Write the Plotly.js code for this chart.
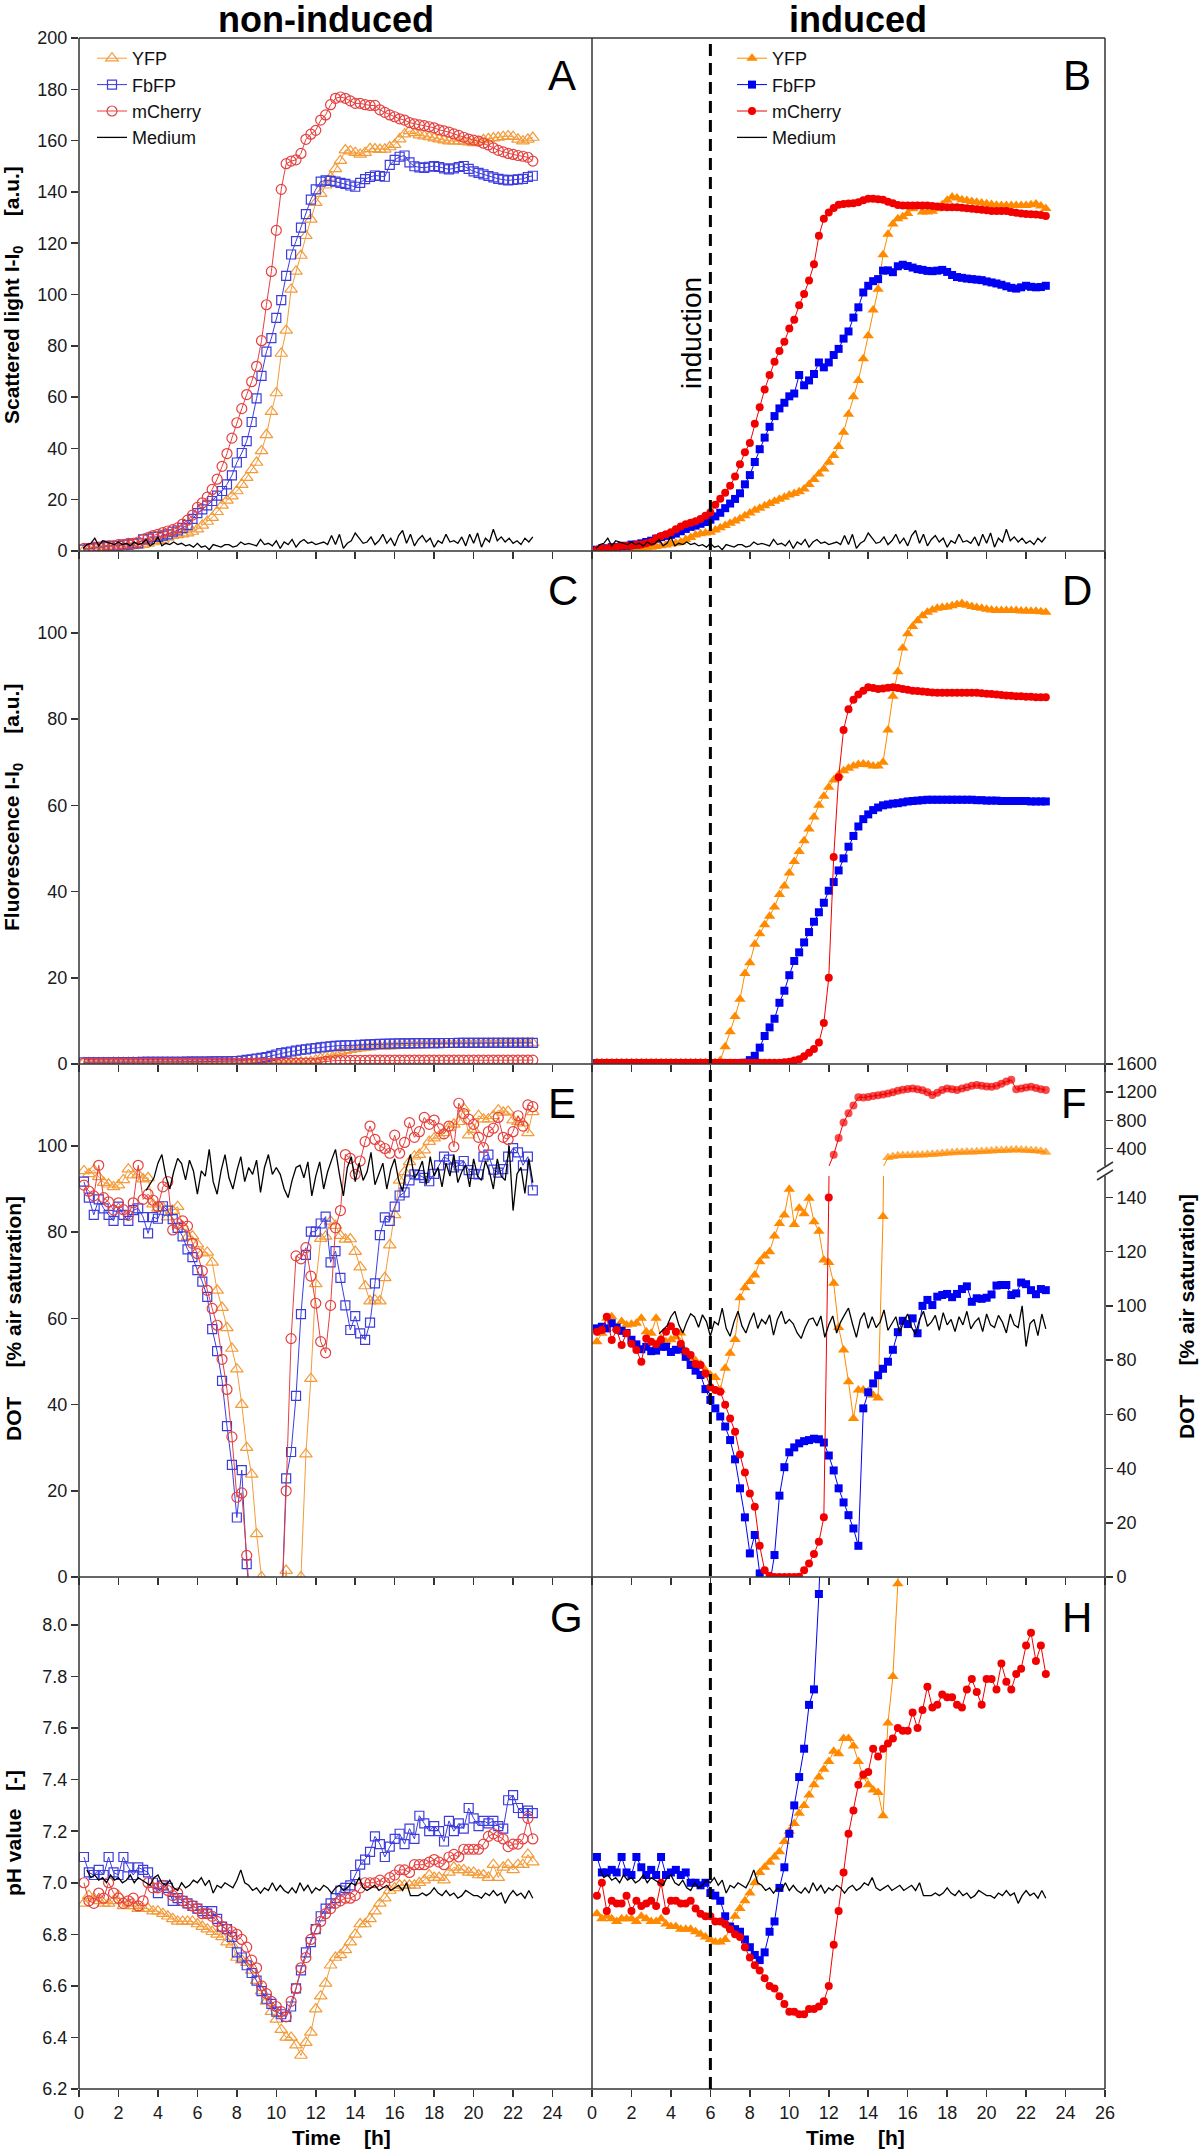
<!DOCTYPE html>
<html>
<head>
<meta charset="utf-8">
<script src="https://cdn.plot.ly/plotly-3.0.1.min.js"></script>
<style>
html,body{margin:0;padding:0;background:#fff;}
#chart{width:1200px;height:2152px;}
</style>
</head>
<body>
<div id="chart"></div>
<script>
// ---------- time grids [h] ----------
const T = [0.25,0.5,0.75,1,1.25,1.5,1.75,2,2.25,2.5,2.75,3,3.25,3.5,3.75,4,4.25,4.5,4.75,5,5.25,5.5,5.75,6,
6.25,6.5,6.75,7,7.25,7.5,7.75,8,8.25,8.5,8.75,9,9.25,9.5,9.75,10,10.25,10.5,10.75,11,11.25,11.5,11.75,12,
12.25,12.5,12.75,13,13.25,13.5,13.75,14,14.25,14.5,14.75,15,15.25,15.5,15.75,16,16.25,16.5,16.75,17,
17.25,17.5,17.75,18,18.25,18.5,18.75,19,19.25,19.5,19.75,20,20.25,20.5,20.75,21,21.25,21.5,21.75,22,22.25,22.5,22.75,23];
const TM = [0.2,0.4,0.6,0.8,1,1.2,1.4,1.6,1.8,2,2.2,2.4,2.6,2.8,3,3.2,3.4,3.6,3.8,4,4.2,4.4,4.6,4.8,5,5.2,5.4,5.6,5.8,6,
6.2,6.4,6.6,6.8,7,7.2,7.4,7.6,7.8,8,8.2,8.4,8.6,8.8,9,9.2,9.4,9.6,9.8,10,10.2,10.4,10.6,10.8,11,11.2,11.4,11.6,11.8,12,
12.2,12.4,12.6,12.8,13,13.2,13.4,13.6,13.8,14,14.2,14.4,14.6,14.8,15,15.2,15.4,15.6,15.8,16,16.2,16.4,16.6,16.8,17,
17.2,17.4,17.6,17.8,18,18.2,18.4,18.6,18.8,19,19.2,19.4,19.6,19.8,20,20.2,20.4,20.6,20.8,21,21.2,21.4,21.6,21.8,22,22.2,22.4,22.6,22.8,23];

// ---------- A: scattered light, non-induced ----------
const A_YFP = [
0.3,0.5,0.5,0.8, 1,1,1.2,1.5, 1.5,1.8,2,2.2, 2.5,3,3.5,4, 4.5,5.3,6,6.3, 6.6,7,7.6,8.5,
10,11.5,13,15.3, 17.8,19.7,21.4,23.4, 25.9,28.6,31.6,34.5, 39,45.3,54.3,61.6, 77,86,102,109,
115.2,122.9,129.3,135.8, 139.3,142.6,145.7,149, 152.2,156.3,155.9,155.3, 154.6,155.3,156.8,156.7,
156.5,156.6,157.5,158.4, 160.6,162.5,163.8,163, 162.1,161.7,161.4,161, 160.6,160.2,159.8,159.8,
159.8,159.6,159.4,159.1, 159.6,160.3,160.7,161, 161.2,161.5,161.8,161.5, 160.5,159.8,160.5,161.2];
const A_FbFP = [
0.5,1,1,1.5, 1.5,2,2,2, 2.5,2.5,3,3, 4.5,4.8,5.5,5.5, 6,6.5,7.5,8, 9,10.1,12.5,14.8,
16.2,17.8,19.5,21.6, 23.4,26,29.5,34.5, 38.2,42.8,50.3,59.5, 68.3,77.7,83,90.9, 97.8,107.3,115.6,120.8,
126.1,131.3,137,141, 144,144.5,144.3,144, 143.5,143.1,142.5,142, 143.5,145,145.8,146.4,
146.2,145.9,150.5,152.5, 153.7,154.2,151.5,150, 149.6,149.4,149.8,150.1, 149.7,149.2,148.8,149.2,
149.7,150.1,149,148, 147.4,146.8,146.2,145.7, 145.1,144.8,144.5,144.7, 144.9,145.1,145.8,146.3];
const A_mCherry = [
1,1,1.5,1.5, 2,2,2,2.5, 2.5,3,3,3.5, 4.5,5.2,6,6.5, 7.2,7.8,8.3,9, 10.5,12,14,17,
18.8,21,24,28, 33,38,44,50, 55.5,61,66,72, 82,96,109,125, 141,151,152,152.5,
155,160.5,162.5,164, 168,170,174,176.5, 177,176.5,175.5,174.5, 174.5,174,173.7,173.7,
172,171,170,169.3, 168.5,168,167,166.5, 166.1,165.8,165.4,165, 164.2,163.8,163.3,162.6,
162,161.3,160.6,160.2, 159.8,159,158.3,157.2, 156.2,155.6,155,154.6, 154.2,153.9,153.5,152];
const MED_SCATTER = [1,2.5,3,5,2,4,3.5,3,2.5,3.5,2.5,3,2,3.5,2.5, 3,4.5,2,3,5.5,2,3,2.5,3.5,2.5,3,2,2.5,1.5,3,
1.5,2,0.5,2.5,2,1.5,2.5,2.5,1.5,2,3.5,2.5,3,2.5,2, 4.5,2.5,3,2,4,1,3.5,2.5,4.5,1.5,3.5,4.5,3,3.5,2.5,
3,3.5,2.5,6,2.5,6.5,1,3,4,7,5,3,3.5,5.5,2.5, 4,6.5,3,5,2,6,8,3,6.5,2,4.5,6,3.5,5,1.5,
4,3,6.5,3.5,4,3,5.5,2,6.5,3,7,1.5,5,3.5,8.5, 4,5.5,3.5,5,3,4,2.5,5,3.5,5.5];

// ---------- B: scattered light, induced ----------
const B_YFP = [
0.3,0.5,0.5,0.5, 0.8,0.8,1,1, 1,1.2,1.2,1.5, 1.8,2,2.3,2.7, 3,3.5,4.5,5.3, 6.2,6.7,7,7.3,
8.2,9.1,9.9,10.8, 11.7,12.6,13.7,14.8, 15.9,16.7,17.6,18.5, 19.4,20.2,21,21.8, 22.4,23.1,24.2,25.9,
27.9,30,32,34.6, 37.2,40.7,46.3,53.3, 60.1,66.5,75,83.9, 94,102,115.5,123.5,
127.5,129.5,130.3,131.6, 133.4,134.5,132.2,132.2, 132.5,133.4,135,136.7, 138,137.6,136.9,136.6,
136.3,136,135.7,135.4, 135.1,134.8,134.7,134.7, 134.7,134.7,134.7,134.7, 135,135.3,134.5,133.5];
const B_FbFP = [
0.5,1,1,1.5, 1.5,2,2,2.5, 2.5,3,3.5,4, 4.8,5.4,5.9,6.3, 6.8,7.7,8.6,9.4, 9.9,10.6,11.3,12.2,
13.5,14.9,16.7,18.5, 20.3,22.5,26,29.6, 34.7,39.7,44.2,48.4, 52.6,55.6,57.8,60.3, 61.4,68.6,64.6,66.5,
69,73.5,71.6,73.5, 76.4,78.8,82.8,85.6, 91,95,100.8,103.4, 105.2,106,109.3,109.4,
108.7,111,111.6,111.1, 110.5,109.9,109.6,109.2, 109.1,109.3,109.6,108.8, 107.6,106.8,106.5,106.2,
106,105.8,105.6,105.1, 104.7,104.3,103.8,103.2, 102.6,102.3,102.8,103.4, 103,102.8,102.9,103.4];
const B_mCherry = [
0.5,1,1,1.5, 1.5,2,2,2, 2.5,2.5,3,3.5, 5,5.8,6.5,7.3, 8.5,9.6,10.4,11, 11.6,12.5,13.7,15,
18,20.4,22.7,25.4, 29,33.8,38.5,42.1, 49.6,56,63,68.6, 73.8,78,81.6,86.7, 90.2,95.8,100.2,105.5,
111.8,122.9,129.5,132, 133.7,135,135.3,135.5, 135.6,136,136.7,137.3, 137.3,137.1,136.9,136.2,
135.6,134.9,134.7,134.7, 134.7,134.7,134.7,134.7, 134.5,134.3,134.1,134, 134,134,133.8,133.6,
133.4,133.2,133,132.8, 132.6,132.6,132.6,132.6, 132.2,131.9,131.6,131.4, 131.3,131.2,131,130.6];

// ---------- C: fluorescence, non-induced ----------
const C_YFP = [
0.3,0.3,0.3,0.3, 0.3,0.3,0.35,0.35, 0.35,0.35,0.4,0.4, 0.4,0.4,0.4,0.4, 0.4,0.4,0.4,0.4, 0.4,0.4,0.4,0.4,
0.4,0.4,0.4,0.4, 0.4,0.4,0.4,0.4, 0.4,0.4,0.4,0.4, 0.4,0.4,0.4,0.4, 0.4,0.4,0.4,0.4,
0.4,0.4,0.6,0.9, 1.3,1.7,2.1,2.5, 2.8,3.1,3.3,3.5, 3.65,3.8,3.9,4,
4.05,4.1,4.15,4.2, 4.25,4.3,4.35,4.4, 4.4,4.45,4.5,4.5, 4.55,4.55,4.6,4.6,
4.6,4.65,4.65,4.7, 4.7,4.7,4.75,4.75, 4.75,4.8,4.8,4.8, 4.8,4.85,4.85,4.85];
const C_FbFP = [
0.4,0.4,0.4,0.4, 0.4,0.4,0.4,0.4, 0.45,0.45,0.45,0.45, 0.5,0.5,0.5,0.5, 0.5,0.5,0.5,0.5, 0.5,0.55,0.55,0.55,
0.55,0.55,0.6,0.6, 0.6,0.6,0.65,0.7, 0.8,0.95,1.1,1.25, 1.4,1.6,1.9,2.2, 2.5,2.7,2.9,3.1,
3.3,3.4,3.6,3.7, 3.85,4,4.1,4.2, 4.25,4.3,4.35,4.4, 4.45,4.5,4.55,4.6,
4.65,4.7,4.72,4.75, 4.78,4.8,4.8,4.82, 4.82,4.85,4.85,4.85, 4.85,4.87,4.87,4.87,
4.88,4.88,4.88,4.9, 4.9,4.9,4.9,4.9, 4.9,4.9,4.9,4.9, 4.9,4.9,4.9,4.9];
const C_mCherry = [
0.2,0.2,0.2,0.2, 0.2,0.2,0.2,0.2, 0.2,0.2,0.2,0.2, 0.2,0.2,0.2,0.2, 0.2,0.2,0.2,0.2, 0.2,0.2,0.2,0.2,
0.2,0.2,0.2,0.2, 0.2,0.2,0.2,0.2, 0.2,0.2,0.2,0.2, 0.2,0.2,0.2,0.2, 0.2,0.2,0.2,0.2,
0.2,0.2,0.2,0.2, 0.4,0.6,0.7,0.8, 0.8,0.8,0.85,0.85, 0.85,0.85,0.9,0.9,
0.9,0.9,0.9,0.9, 0.9,0.9,0.9,0.9, 0.9,0.9,0.9,0.9, 0.9,0.9,0.9,0.9,
0.9,0.9,0.9,0.9, 0.9,0.9,0.9,0.9, 0.9,0.9,0.9,0.9, 0.9,0.9,0.9,0.9];

// ---------- D: fluorescence, induced ----------
const D_YFP = [
0.3,0.3,0.3,0.3, 0.3,0.3,0.3,0.3, 0.3,0.3,0.3,0.3, 0.3,0.3,0.3,0.3, 0.3,0.3,0.3,0.3, 0.3,0.3,0.3,0.3,
0.3,0.8,4,7.5, 11,15,21,23.5, 27.8,30.2,32.3,34.3, 36.4,39.3,41.3,44.3, 47,49.3,51.8,54.5,
57.3,60,62.1,64.2, 65.9,67.1,68,68.6, 69.1,69.5,69.6,69.4, 69.1,69.1,70,77.5,
85.3,91,96.5,99.8, 101.5,102.8,104,104.8, 105.3,105.7,105.9,106, 106.3,106.6,106.8,106.4,
106.1,105.9,105.7,105.5, 105.3,105.2,105.2,105.2, 105.2,105.2,105.1,105.1, 105,105,104.9,104.8];
const D_FbFP = [
0.2,0.2,0.2,0.2, 0.2,0.2,0.2,0.2, 0.2,0.2,0.2,0.2, 0.2,0.2,0.2,0.2, 0.2,0.2,0.2,0.2, 0.2,0.2,0.2,0.2,
0.2,0.2,0.2,0.2, 0.2,0.2,0.3,0.9, 1.9,3.8,6.5,8.5, 10.5,14.2,17,20.6, 23.9,25.9,28.2,30.6,
33,35.2,37.4,40.2, 42.2,44.9,47.7,50.4, 52.9,55.1,56.8,57.9, 58.9,59.5,60,60.2,
60.4,60.5,60.7,60.9, 61,61.1,61.2,61.3, 61.3,61.3,61.3,61.3, 61.3,61.3,61.3,61.3,
61.3,61.2,61.2,61.1, 61.1,61.1,61,61, 61,61,61,61, 60.9,60.9,60.9,60.9];
const D_mCherry = [
0.3,0.3,0.3,0.3, 0.3,0.3,0.3,0.3, 0.3,0.3,0.3,0.3, 0.3,0.3,0.3,0.3, 0.3,0.3,0.3,0.3, 0.3,0.3,0.3,0.3,
0.3,0.3,0.3,0.3, 0.3,0.3,0.3,0.3, 0.3,0.3,0.3,0.3, 0.3,0.3,0.4,0.5, 0.8,1.1,1.8,2.6,
3.5,5,9.5,20, 48,66.5,77.5,82.3, 84.5,85.7,86.6,87.4, 87.2,87,87.1,87.3,
87.4,87.2,87,86.8, 86.6,86.5,86.4,86.3, 86.2,86.1,86.1,86.1, 86.1,86.1,86.1,86.1,
86.1,86.1,86,85.9, 85.8,85.7,85.6,85.5, 85.4,85.3,85.3,85.2, 85.2,85.1,85.1,85.1];

// ---------- E: DOT, non-induced ----------
const E_YFP = [
94.2,93.5,94.4,92.8, 91.5,91.1,90.5,90.9, 92.1,94.6,93.2,93.4, 92.3,92.6,86.5,85.5, 85.7,83.5,85,85.9, 81.3,78.9,79.1,77.2,
75.1,75.3,73,66.5, 62.5,57.8,53,48.2, 40,30,23.8,10, 0,-10,-10,-10, -10,1.5,-10,-10,
0,28.5,46,68, 78.5,79,82.5,81.5, 79.2,78.3,78.4,75.5, 71.9,67.5,64,64.2,
64,69.4,77,84, 92,94,96.3,97.6, 98,99,101,101.8, 102.3,103,104.2,105,
105.6,108.7,102.5,103.8, 107,106.2,106.2,107, 108.3,107.8,108,106, 105.6,105.3,103,107.9];
const E_FbFP = [
91.7,88,84,87.6, 85.5,84,82.6,85.9, 84,82.6,85.1,85.5, 83.5,79.7,83.5,83.1, 86,85,83,81, 79,76,74.2,71.2,
68.5,65,57.5,52.4, 45.5,35,26,13.8, 24.8,3,-10,-10, -10,-10,-10,-10, -10,22.9,29,42,
61,74.7,80.1,80.1, 82,83.6,73,75.6, 69.4,63,57.3,60.5, 56.5,55,59,68.1,
79.3,83.4,82.6,85.9, 88.5,89.2,92,93.4, 93.2,92.6,91.8,93.5, 95.5,97.5,96.8,95,
95.5,96.5,94.4,93.5, 93.4,97.5,98,94.5, 93.8,94.6,97.5,99.5, 98.5,95.5,97.5,89.7];
const E_mCherry = [
90.9,89.5,88.4,95.5, 88,87,85.1,86.8, 85.2,83.9,86.8,95.5, 87.6,88.8,87.4,85.9, 90.5,91.7,80.5,82, 82.6,81.4,77.4,75,
71,66.5,62.3,58.4, 50.5,43.5,32.5,18.5, 19.5,5,-10,-10, -10,-10,-10,-10, -10,20,55.3,74.5,
73.8,76.4,69.8,63.5, 54.6,52,63,81, 85,98,97.1,93.4, 96.5,101,104.6,101.5,
100,99.4,98.3,102.5, 98.3,100.8,105.4,102, 103.3,106.6,105,106, 104,102.8,104.6,99.8,
109.9,107.5,106.2,105, 102,99.6,103.3,104.1, 106.6,102,101.5,103.3, 107,104.6,109.5,109.1];
const MED_DOT = [null,null,null,null,null,null,null,null,null,null,null,null,null,null,null,null,
89.7,91,92.6,96,98,93,90,94,97.1,95.9,92.1,96.7,94.2,88.8,94.2,
93,99.2,91.7,88.8,94.2,98,92.6,90,94.2,97.5,91.7,95,93.4,96.7,89.2,
95,98,93.4,95,93.4,90,88,92,95,95.5,92.6,96.3,88.4,93,96.3,
90,94,96.7,99.2,93.4,88.4,95,97.5,91.7,96,92,94,98.5,91,93.5,
96,90,94.5,97,92,89.5,95,98,92.5,94,96.5,91,97.5,93,95,
90.5,96,93,98,91.5,94,95.5,90.5,97,93,92,96.5,94,90,97,
93,92,100,85,93.5,95,89,97,91.5];

// ---------- F: DOT, induced (broken right axis) ----------
const F_YFP = [
86.8,89.9,95.4,96, 91.7,94.2,92.9,93.2, 93.6,95.4,90.5,89.9, 95.4,88,86.8,87.5, 88.5,90,83,80.5, 79.8,78.5,76.2,74.5,
73.6,69,77,82.5, 87.6,103,106.7,109, 111.4,116.3,118.4,120, 125.8,130.4,133.5,143, 130,136,134,139.7,
131,127.5,116.9,116, 108.3,92,83.7,72, 58.5,69,69,68.5, 67,66,133,270,
285,295,298,300, 302,305,308,312, 318,322,328,335, 340,345,347,348,
350,352,355,360, 365,370,372,375, 378,380,378,375, 370,368,360,345];
const F_FbFP = [
91.7,92.3,91.7,93.6, 92,90.8,90,87.5, 85.8,84,84.9,83.3, 83.5,84.9,84.9,83, 83.8,84,81.2,78.2, 76.1,74.5,69.3,65.3,
62.2,59.2,55.5,50.5, 43.4,32.7,22,8.7, 15.5,1.3,-5,-3, 8.1,30,40.5,46, 47.8,49.3,50.1,50.5,
51,50.8,49.6,44.8, 39.3,32.7,27.5,22.8, 17.9,11.5,62.2,68.1, 71.4,74.4,76.8,79.4,
83.8,90.3,94.5,93.3, 95.4,89.9,100,102.2, 100.3,103.4,104,104.4, 103.2,104.4,106.2,107.2,
101.5,102.8,102.6,103, 104.2,107.5,107.7,107.7, 104,104.6,108.6,108, 105.8,104.3,106.2,105.8];
const F_mCherry = [
90.5,91.1,96,87.4, 91.1,85.6,89.9,86, 83.7,79.4,88,86.8, 85.8,87.5,90.5,92.5, 90.5,86,83.3,81.9, 78.6,78.2,75.1,70,
69,68.3,63.5,58.5, 53.6,45.2,38.5,30.8, 25.9,11.5,2.5,0.5, 0,0,0,0, 0,0.1,2.5,5,
8.5,13,22,140, 310,547,770,900, 1010,1127,1125,1130, 1145,1155,1165,1180,
1200,1220,1235,1245, 1253,1240,1228,1200, 1160,1190,1230,1253, 1240,1230,1250,1270,
1290,1300,1290,1280, 1275,1290,1320,1350, 1375,1240,1250,1265, 1275,1260,1240,1230];

// ---------- G: pH, non-induced ----------
const G_YFP = [
6.92,6.95,6.94,6.93, 6.92,6.92,6.93,6.95, 6.91,6.92,6.91,6.9, 6.9,6.9,6.89,6.89, 6.88,6.87,6.86,6.85, 6.85,6.85,6.85,6.84,
6.83,6.82,6.81,6.8, 6.79,6.77,6.76,6.71, 6.7,6.69,6.66,6.62, 6.58,6.54,6.5,6.47, 6.43,6.4,6.4,6.37,
6.33,6.38,6.42,6.51, 6.56,6.61,6.68,6.71, 6.72,6.74,6.77,6.8, 6.84,6.84,6.86,6.89,
6.92,6.94,6.97,6.98, 6.99,6.99,6.99,6.99, 7,7.01,7.03,7.02, 7.02,7.01,7.04,7.06,
7.05,7.05,7.04,7.04, 7.03,7.03,7.02,7.07, 7.02,7.06,7.07,7.05, 7.07,7.07,7.11,7.08];
const G_FbFP = [
7.1,7.04,7.03,7.05, 7.03,7.1,7.04,7.03, 7.1,7.06,7.03,7.06, 7.05,7.04,7,6.96, 6.99,6.98,6.93,6.94, 6.93,6.92,6.91,6.9,
6.89,6.88,6.89,6.86, 6.83,6.82,6.79,6.73, 6.71,6.68,6.65,6.62, 6.58,6.55,6.53,6.5, 6.49,6.48,6.52,6.59,
6.66,6.73,6.77,6.82, 6.87,6.9,6.92,6.94, 6.97,6.98,6.99,7.03, 7.07,7.09,7.12,7.18,
7.15,7.1,7.14,7.17, 7.19,7.15,7.21,7.17, 7.26,7.23,7.2,7.22, 7.2,7.16,7.24,7.2,
7.23,7.21,7.29,7.25, 7.22,7.24,7.23,7.24, 7.22,7.21,7.32,7.34, 7.29,7.27,7.28,7.27];
const G_mCherry = [
7,6.93,6.92,6.96, 6.94,7,6.96,6.94, 6.92,6.93,6.94,6.91, 6.93,7,6.98,6.98, 6.99,6.97,6.95,6.96, 6.93,6.92,6.91,6.9,
6.88,6.88,6.87,6.85, 6.83,6.82,6.81,6.8, 6.78,6.75,6.7,6.67, 6.6,6.57,6.54,6.52, 6.5,6.48,6.54,6.59,
6.67,6.71,6.78,6.82, 6.85,6.88,6.9,6.92, 6.93,6.94,6.94,6.95, 6.98,7,7,7,
7.01,7,7.02,7.03, 7.05,7.05,7.04,7.07, 7.07,7.07,7.08,7.09, 7.08,7.07,7.1,7.11,
7.1,7.13,7.13,7.13, 7.13,7.15,7.18,7.19, 7.18,7.17,7.14,7.15, 7.15,7.17,7.25,7.17];
const MED_PH = [null,7.05,7.02,7.03,7.01,7.02,7,7.03,7.01,7.02,7,7.01,7.03,7,7.02,
7.01,7,6.99,7.02,7.03,7,6.99,7.01,6.98,6.97,7,6.98,6.99,7.01,7,
7.02,6.99,7.01,6.96,6.99,6.98,7,6.99,6.98,7.01,7.05,7,6.99,6.97,6.98,
6.96,6.98,6.97,7,6.97,6.99,6.97,6.96,6.98,6.96,7,6.97,6.99,6.96,6.98,
6.97,6.99,6.98,6.96,6.98,6.99,6.97,6.98,7,6.99,7.02,6.98,6.97,6.98,6.99,
6.97,6.98,6.99,6.97,6.98,6.99,6.97,7,6.95,6.95,6.95,6.96,6.95,6.96,6.98,
6.96,6.95,6.97,6.95,6.96,6.94,6.95,6.97,6.96,6.95,6.95,6.94,6.96,6.95,6.97,
6.95,6.96,6.92,6.95,6.97,6.95,6.96,6.94,6.97,6.94];

// ---------- H: pH, induced ----------
const H_YFP = [
6.88,6.86,6.87,6.86, 6.85,6.86,6.86,6.86, 6.85,6.87,6.86,6.85, 6.85,6.86,6.84,6.83, 6.83,6.82,6.82,6.82, 6.81,6.8,6.79,6.78,
6.77,6.77,6.78,6.83, 6.87,6.9,6.93,6.96, 7,7.04,7.06,7.08, 7.1,7.12,7.16,7.2, 7.23,7.27,7.3,7.34,
7.38,7.41,7.44,7.47, 7.51,7.5,7.56,7.56, 7.53,7.47,7.41,7.38, 7.36,7.35,7.26,7.62,
7.8,8.16,8.6,null, null,null,null,null, null,null,null,null, null,null,null,null,
null,null,null,null, null,null,null,null, null,null,null,null, null,null,null,null];
const H_FbFP = [
7.1,7.04,7.04,7.05, 7.04,7.1,7.04,7.03, 7.1,7.06,7.03,7.05, 7.03,7.1,7.03,7.04, 7.05,7.03,7.04,7, 7,6.99,7,6.96,
6.95,6.93,6.87,6.83, 6.82,6.81,6.78,6.75, 6.72,6.7,6.73,6.81, 6.85,6.98,7.06,7.19, 7.3,7.41,7.52,7.69,
7.75,8.12,8.6,null, null,null,null,null, null,null,null,null, null,null,null,null,
null,null,null,null, null,null,null,null, null,null,null,null, null,null,null,null,
null,null,null,null, null,null,null,null, null,null,null,null, null,null,null,null];
const H_mCherry = [
6.95,7,6.89,6.93, 6.92,6.92,6.95,6.89, 6.93,6.91,6.92,6.93, 6.91,7,6.89,6.93, 6.93,6.92,6.92,6.93, 6.9,6.88,6.87,6.87,
6.85,6.85,6.84,6.82, 6.8,6.79,6.75,6.71, 6.68,6.66,6.63,6.6, 6.59,6.56,6.53,6.5, 6.5,6.49,6.49,6.51,
6.51,6.52,6.54,6.6, 6.76,6.89,7.04,7.19, 7.28,7.38,7.42,7.43, 7.52,7.49,7.52,7.54,
7.56,7.6,7.59,7.59, 7.66,7.6,7.67,7.76, 7.68,7.69,7.73,7.72, 7.72,7.69,7.68,7.75,
7.79,7.74,7.69,7.79, 7.79,7.75,7.85,7.78, 7.75,7.81,7.83,7.92, 7.97,7.86,7.92,7.81];

// ---------- labels ----------
const SERIES_NAMES = ['YFP','FbFP','mCherry','Medium'];
const PANEL_LETTERS = ['A','B','C','D','E','F','G','H'];
const COLUMN_TITLES = ['non-induced','induced'];
const Y_TITLES = ['Scattered light I-I<sub>0</sub>', 'Fluorescence I-I<sub>0</sub>', 'DOT', 'pH value'];
const Y_UNITS = ['[a.u.]','[a.u.]','[% air saturation]','[-]'];
const X_TITLE = 'Time', X_UNIT = '[h]';
const INDUCTION_TIME = 6;
const F_BREAK = 150; // lower limit of the upper (broken) DOT axis in panel F

// ---------- drawing ----------
const W = 1200, H = 2152;
const px = x => x / W, py = y => 1 - y / H;
const FONT = 'Arial, "Liberation Sans", Helvetica, sans-serif';
const OPEN_COL = ['#F39B3A', '#3D3DDE', '#E5403F'];
const FILL_COL = ['#FF8A00', '#0000F2', '#F20000'];
const OPEN_SYM = ['triangle-up-open','square-open','circle-open'], OPEN_SIZE = [11,9,10];
const FILL_SYM = ['triangle-up','square','circle'], FILL_SIZE = [10,8,8];

const xL = [79, 592], xR = [592, 1105];
const rows = [[38,551],[551,1064],[1064,1577],[1577,2089]];

const panels = [
  {xa:'x',  ya:'y',  open:true,  data:[A_YFP,A_FbFP,A_mCherry], med:MED_SCATTER, legend:'legend', show:true},
  {xa:'x2', ya:'y2', open:false, data:[B_YFP,B_FbFP,B_mCherry], med:MED_SCATTER, legend:'legend2', show:true},
  {xa:'x3', ya:'y3', open:true,  data:[C_YFP,C_FbFP,C_mCherry], med:null},
  {xa:'x4', ya:'y4', open:false, data:[D_YFP,D_FbFP,D_mCherry], med:null},
  {xa:'x5', ya:'y5', open:true,  data:[E_YFP,E_FbFP,E_mCherry], med:MED_DOT},
  {xa:'x6', ya:'y6', open:false, data:[F_YFP,F_FbFP,F_mCherry], med:MED_DOT, extraY:'y9'},
  {xa:'x7', ya:'y7', open:true,  data:[G_YFP,G_FbFP,G_mCherry], med:MED_PH},
  {xa:'x8', ya:'y8', open:false, data:[H_YFP,H_FbFP,H_mCherry], med:MED_PH}
];

// for the upper broken axis keep only points above the break (plus neighbours for the connecting line)
function upperPart(vals) {
  return vals.map((v, i) => {
    if (v === null) return null;
    if (v > F_BREAK) return v;
    const a = vals[i-1], b = vals[i+1];
    return ((a != null && a > F_BREAK) || (b != null && b > F_BREAK)) ? v : null;
  });
}

const problems = [];
const traces = [];
panels.forEach((p, pi) => {
  p.data.forEach((vals, i) => {
    if (vals.length !== T.length) problems.push(PANEL_LETTERS[pi] + i + ':' + vals.length);
    const col = p.open ? OPEN_COL[i] : FILL_COL[i];
    const size = p.open ? OPEN_SIZE[i] : FILL_SIZE[i];
    const mk = {symbol: p.open ? OPEN_SYM[i] : FILL_SYM[i], size, color:col, line:{color:col, width: p.open ? 1.2 : 0}};
    traces.push({
      type:'scatter', mode:'lines+markers', x:T, y:vals, xaxis:p.xa, yaxis:p.ya,
      name:SERIES_NAMES[i], legend:p.legend || 'legend', showlegend: !!p.show,
      line:{color:col, width:1}, marker:mk, cliponaxis:true, connectgaps:false, hoverinfo:'skip'
    });
    if (p.extraY && vals.some(v => v !== null && v > F_BREAK)) {
      const up = upperPart(vals);
      traces.push({
        type:'scatter', mode:'lines+markers', x:T, y:up, xaxis:p.xa, yaxis:p.extraY,
        name:SERIES_NAMES[i], showlegend:false,
        line:{color:col, width:1},
        marker:Object.assign({}, mk, {size: vals.map(v => (v !== null && v > F_BREAK) ? size : 0)}),
        cliponaxis:true, connectgaps:false, hoverinfo:'skip'
      });
    }
  });
  if (p.med) {
    if (p.med.length !== TM.length) problems.push(PANEL_LETTERS[pi] + 'M:' + p.med.length);
    traces.push({type:'scatter', mode:'lines', x:TM, y:p.med, xaxis:p.xa, yaxis:p.ya,
      name:SERIES_NAMES[3], legend:p.legend || 'legend', showlegend: !!p.show,
      line:{color:'#000', width:1.3}, hoverinfo:'skip'});
  }
});

const tickFont = {family:FONT, size:18, color:'#1a1a1a'};
const base = {showgrid:false, zeroline:false, showline:false, fixedrange:true,
  ticks:'outside', ticklen:7, tickwidth:1.5, tickcolor:'#333', tickfont:tickFont};

const legendFont = {family:FONT, size:18, color:'#111'};
const layout = {
  width:W, height:H, margin:{l:0,r:0,t:0,b:0}, paper_bgcolor:'#fff', plot_bgcolor:'rgba(0,0,0,0)',
  font:{family:FONT, color:'#111'}, showlegend:true,
  legend:{x:px(92), y:py(40), xanchor:'left', yanchor:'top', bgcolor:'rgba(0,0,0,0)',
    font:legendFont, tracegroupgap:0, traceorder:'normal'},
  legend2:{x:px(732), y:py(40), xanchor:'left', yanchor:'top', bgcolor:'rgba(0,0,0,0)',
    font:legendFont, tracegroupgap:0, traceorder:'normal'},
  shapes:[], annotations:[]
};

const evenTicks = n => { const a=[]; for (let v=0; v<=n; v+=2) a.push(v); return a; };
const yR = [[0,200],[0,119],[0,119],[6.2,8.186]];
for (let i = 0; i < 8; i++) {
  const r = Math.floor(i/2), right = i % 2 === 1;
  const xn = 'xaxis' + (i ? i+1 : ''), yn = 'yaxis' + (i ? i+1 : '');
  const xd = right ? xR : xL;
  layout[xn] = Object.assign({}, base, {domain:[px(xd[0]), px(xd[1])], anchor:'y' + (i ? i+1 : ''),
    range:[0,26], tickmode:'array', tickvals: evenTicks(right ? 26 : 24),
    showticklabels: r === 3});
  const yd = (i === 5) ? [1176, 1577] : rows[r];
  const yax = Object.assign({}, base, {domain:[py(yd[1]), py(yd[0])], anchor:'x' + (i ? i+1 : ''),
    range: (i === 5) ? [0,147.9] : yR[r]});
  if (right && i !== 5) { yax.ticks = ''; yax.showticklabels = false; }
  else if (i === 5) { yax.side = 'right'; yax.dtick = 20; yax.tick0 = 0; }
  else if (r === 3) { yax.dtick = 0.2; yax.tick0 = 6.2; yax.tickformat = '.1f'; }
  else { yax.dtick = 20; yax.tick0 = 0; }
  layout[yn] = yax;
}
layout.yaxis9 = Object.assign({}, base, {domain:[py(1166), py(1064)], anchor:'x6', side:'right',
  range:[F_BREAK,1600], tickmode:'array', tickvals:[400,800,1200,1600]});

// frame lines
const LC = '#333', LW = 1.5;
const ln = (x0,y0,x1,y1,w,c) => ({type:'line', xref:'paper', yref:'paper', x0:px(x0), y0:py(y0), x1:px(x1), y1:py(y1),
  line:{color:c||LC, width:w||LW}, layer:'above'});
[38,551,1064,1577,2089].forEach(y => layout.shapes.push(ln(79,y,1105,y)));
layout.shapes.push(ln(79,38,79,2089), ln(592,38,592,2089), ln(1105,38,1105,1166), ln(1105,1176,1105,2089));
layout.shapes.push(ln(1097,1172,1113,1162,1.5), ln(1097,1180,1113,1170,1.5));
// induction line (data x on right column axes)
layout.shapes.push({type:'line', xref:'x2', yref:'paper', x0:INDUCTION_TIME, x1:INDUCTION_TIME,
  y0:py(2089), y1:py(38), line:{color:'#000', width:3, dash:'12px,7px'}, layer:'above'});

const ann = (text, x, y, size, extra) => layout.annotations.push(Object.assign({
  text, xref:'paper', yref:'paper', x:px(x), y:py(y), xanchor:'center', yanchor:'middle',
  showarrow:false, font:{family:FONT, size, color:'#000'}}, extra || {}));
const SP = '\u00A0\u00A0\u00A0\u00A0\u00A0';

ann('<b>' + COLUMN_TITLES[0] + '</b>', 326, 20, 36);
ann('<b>' + COLUMN_TITLES[1] + '</b>', 858, 20, 36);
const letterPos = [[562,76],[1077,76],[563,590],[1077,590],[562,1103],[1074,1103],[566,1617],[1077,1617]];
PANEL_LETTERS.forEach((L, i) => ann(L, letterPos[i][0], letterPos[i][1], 42));
const yTitleY = [295, 808, 1319, 1833];
Y_TITLES.forEach((t, r) => ann('<b>' + t + (r === 3 ? '\u00A0\u00A0\u00A0' : SP) + Y_UNITS[r] + '</b>', 13, yTitleY[r], 21, {textangle:-90}));
ann('<b>' + Y_TITLES[2] + SP + Y_UNITS[2] + '</b>', 1186, 1317, 21, {textangle:-90});
ann('<b>' + X_TITLE + '\u00A0\u00A0\u00A0\u00A0' + X_UNIT + '</b>', 341, 2137, 21);
ann('<b>' + X_TITLE + '\u00A0\u00A0\u00A0\u00A0' + X_UNIT + '</b>', 855, 2137, 21);
ann('induction', 692, 333, 28, {textangle:-90});
if (problems.length) ann('LEN ' + problems.join(' '), 600, 2145, 10, {font:{size:10,color:'#f0f'}});

Plotly.newPlot('chart', traces, layout, {staticPlot:true, displayModeBar:false});
</script>
</body>
</html>
